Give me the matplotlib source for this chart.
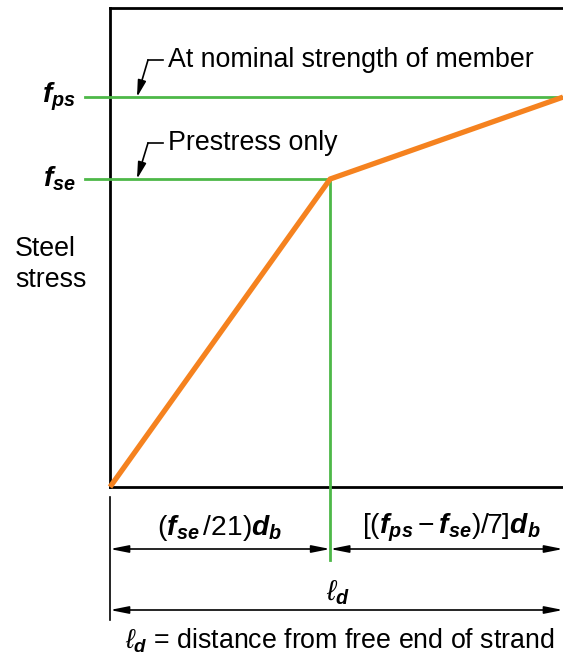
import matplotlib
matplotlib.use("Agg")
import matplotlib.pyplot as plt

plt.rcParams["font.family"] = ["Liberation Sans", "DejaVu Sans"]
plt.rcParams["mathtext.fontset"] = "custom"
plt.rcParams["mathtext.rm"] = "Liberation Sans"
plt.rcParams["mathtext.it"] = "Liberation Sans:italic"
plt.rcParams["mathtext.bf"] = "Liberation Sans:bold"
plt.rcParams["mathtext.bfit"] = "Liberation Sans:italic:bold"

# data (length as fraction of development length, stress as fraction of axis)
strand_x = [0.0, 0.486, 1.0]
strand_stress = [0.0, 0.643, 0.814]
f_se = strand_stress[1]
f_ps = strand_stress[2]
x_transfer = strand_x[1]

orange = "#F5821F"
green = "#4DB848"
fs = 19.3
fs_math = 20.3

fig = plt.figure(figsize=(5.63, 6.58), dpi=100)
W, H = 563, 658
ax = fig.add_axes([110 / W, (H - 487) / H, 453 / W, 479 / H])
ax.set_xlim(0, 1)
ax.set_ylim(0, 1)
ax.set_xticks([])
ax.set_yticks([])
for s in ["left", "top", "bottom"]:
    ax.spines[s].set_linewidth(2.0)
ax.spines["right"].set_visible(False)


def px(x):
    return (x - 110) / 453


def py(y):
    return (487 - y) / 479


# green reference lines
ax.plot([px(85), 1], [f_ps, f_ps], color=green, lw=2.0, clip_on=False, zorder=3)
ax.plot([px(85), x_transfer], [f_se, f_se], color=green, lw=2.0, clip_on=False, zorder=3)
ax.plot([x_transfer, x_transfer], [f_se, py(560)], color=green, lw=2.0, clip_on=False, zorder=3)

# stress in strand
ax.plot(strand_x, strand_stress, color=orange, lw=3.8, solid_capstyle="butt",
        clip_on=False, zorder=4)

bi = dict(fontsize=fs_math, ha="right", va="center")
ax.text(px(76), f_ps, r"$\mathbfit{f}_{\mathbfit{ps}}$", **bi)
ax.text(px(76), f_se, r"$\mathbfit{f}_{\mathbfit{se}}$", **bi)
ax.text(px(15), py(264), "Steel\nstress", fontsize=fs, ha="left", va="center",
        linespacing=1.25)

# leader notes
for label, yv, ylab in [("At nominal strength of member", f_ps, 60),
                        ("Prestress only", f_se, 143)]:
    ax.plot([px(148), px(163)], [py(ylab), py(ylab)], color="black", lw=1.2,
            clip_on=False)
    ax.annotate("", xy=(px(137), yv), xytext=(px(148), py(ylab)),
                arrowprops=dict(arrowstyle="-|>,head_length=1.0,head_width=0.25",
                                color="black", lw=1.2, shrinkA=0, shrinkB=0),
                annotation_clip=False)
    ax.text(px(168), py(ylab), label, fontsize=fs, ha="left", va="center")

# dimension lines
ax.plot([0, 0], [py(497), py(620)], color="black", lw=1.2, clip_on=False)
dim = dict(arrowstyle="<|-|>,head_length=1.1,head_width=0.22", color="black",
           lw=1.2, shrinkA=0, shrinkB=0)
ax.annotate("", xy=(0, py(549)), xytext=(x_transfer, py(549)), arrowprops=dim,
            annotation_clip=False)
ax.annotate("", xy=(x_transfer, py(549)), xytext=(1, py(549)), arrowprops=dim,
            annotation_clip=False)
ax.annotate("", xy=(0, py(610)), xytext=(1, py(610)), arrowprops=dim,
            annotation_clip=False)

ax.text(px(220), py(528),
        r"$(\mathbfit{f}_{\mathbfit{se}}\,/21)\mathbfit{d}_{\mathbfit{b}}$",
        fontsize=fs_math, ha="center", va="center")
ax.text(px(451), py(528),
        r"$[(\mathbfit{f}_{\mathbfit{ps}}-\mathbfit{f}_{\mathbfit{se}})/7]\mathbfit{d}_{\mathbfit{b}}$",
        fontsize=fs_math, ha="center", va="center")
ax.text(px(338), py(593), r"$\ell_{\mathbfit{d}}$", fontsize=fs_math, ha="center",
        va="center")
ax.text(px(340), py(641), r"$\ell_{\mathbfit{d}}$ = distance from free end of strand",
        fontsize=fs, ha="center", va="center")

fig.savefig("out.png", dpi=100)
